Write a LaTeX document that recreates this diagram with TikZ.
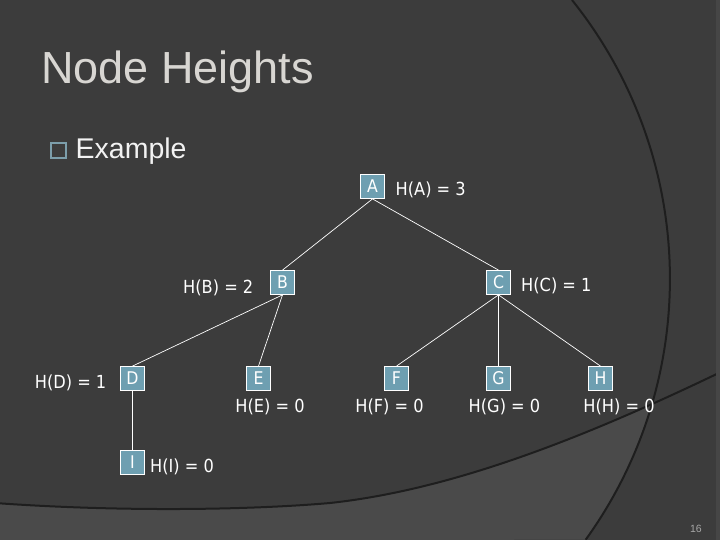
\documentclass[tikz,border=0pt]{standalone}
\usepackage{fontspec}
\setmainfont{Liberation Sans}
\newfontfamily\treefont[FakeStretch=0.9]{DejaVu Sans}
\usepackage{tikz}
\definecolor{slidegrey}{RGB}{60,60,60}
\definecolor{bandgrey}{RGB}{74,74,74}
\definecolor{stripgrey}{RGB}{70,70,70}
\definecolor{arcblack}{RGB}{30,30,30}
\definecolor{keyblue}{RGB}{110,159,177}
\definecolor{bulletblue}{RGB}{124,158,171}
\definecolor{titlegrey}{RGB}{216,214,210}
\tikzset{
  arcline/.style={arcblack,line width=2pt},
  link/.style={white,line width=0.7pt},
  vert/.style={draw=white,line width=0.8pt,fill=keyblue,minimum size=24pt,inner sep=0pt,
               text=white,font=\treefont\fontsize{17.5}{21}\selectfont},
  lab/.style={inner sep=0pt,text=white,font=\treefont\fontsize{18}{22}\selectfont},
  title/.style={inner sep=0pt,text=titlegrey,font=\fontsize{45}{54}\selectfont},
  item/.style={inner sep=0pt,text=white!95!black,font=\fontsize{28.5}{34}\selectfont},
  bulletbox/.style={draw=bulletblue,line width=2pt,minimum size=15pt,inner sep=0pt},
  pagenum/.style={inner sep=0pt,text=black!35,font=\fontsize{10.5}{12}\selectfont},
}

\begin{document}
\begin{tikzpicture}[x=1pt,y=-1pt]
  \path[use as bounding box] (0,0) rectangle (720,540);
  \fill[slidegrey] (0,0) rectangle (720,540);
  \begin{scope}
    \clip (0,0) rectangle (720,540);
    % big ring arc, centre (224,279), radius 446
    \begin{scope}
      \clip (0,0) -- (572,0) arc[start angle=38.7,end angle=-35.8,radius=446pt] -- (0,540) -- cycle;
      \fill[bandgrey] (-5,503) .. controls (120,512) and (250,510) .. (330,503)
        .. controls (450,490) and (580,440) .. (725,370) -- (725,545) -- (-5,545) -- cycle;
    \end{scope}
    \draw[arcline] (-5,503) .. controls (120,512) and (250,510) .. (330,503)
      .. controls (450,490) and (580,440) .. (725,370);
    \draw[arcline] (572,0) arc[start angle=38.7,end angle=-35.8,radius=446pt];
    \fill[stripgrey] (716,0) rectangle (720,540);
  \end{scope}

  \node[title,anchor=base west] (ttl) at (41,83.5) {Node Heights};
  \node[bulletbox] (bul) at (58,150.5) {};
  \node[item,anchor=base west] (ex) at (75.5,158.3) {Example};

  % tree
  \foreach \n/\x/\y in {A/372.5/186.5,B/282.5/282.5,C/498.5/282.5,D/132.5/378.5,
                        E/258.5/378.5,F/396.5/378.5,G/498.5/378.5,H/600.5/378.5,I/132.5/462.5}{
    \node[vert] (\n) at (\x,\y) {\n};
  }
  \foreach \a/\b in {A/B,A/C,B/D,B/E,C/F,C/G,C/H,D/I}{
    \draw[link] (\a.south) -- (\b.north);
  }

  \node[lab,anchor=base west] (hA) at (395.5,196) {H(A) = 3};
  \node[lab,anchor=base east] (hB) at (253.5,293) {H(B) = 2};
  \node[lab,anchor=base west] (hC) at (521,291.5) {H(C) = 1};
  \node[lab,anchor=base east] (hD) at (106.5,388) {H(D) = 1};
  \foreach \n/\x in {E/270,F/389.5,G/504.5,H/619}{
    \node[lab,anchor=base] (h\n) at (\x,412) {H(\n) = 0};
  }
  \node[lab,anchor=base west] (hI) at (150,472) {H(I) = 0};

  \node[pagenum,anchor=base east] (pg) at (702,532) {16};
\end{tikzpicture}
\end{document}
